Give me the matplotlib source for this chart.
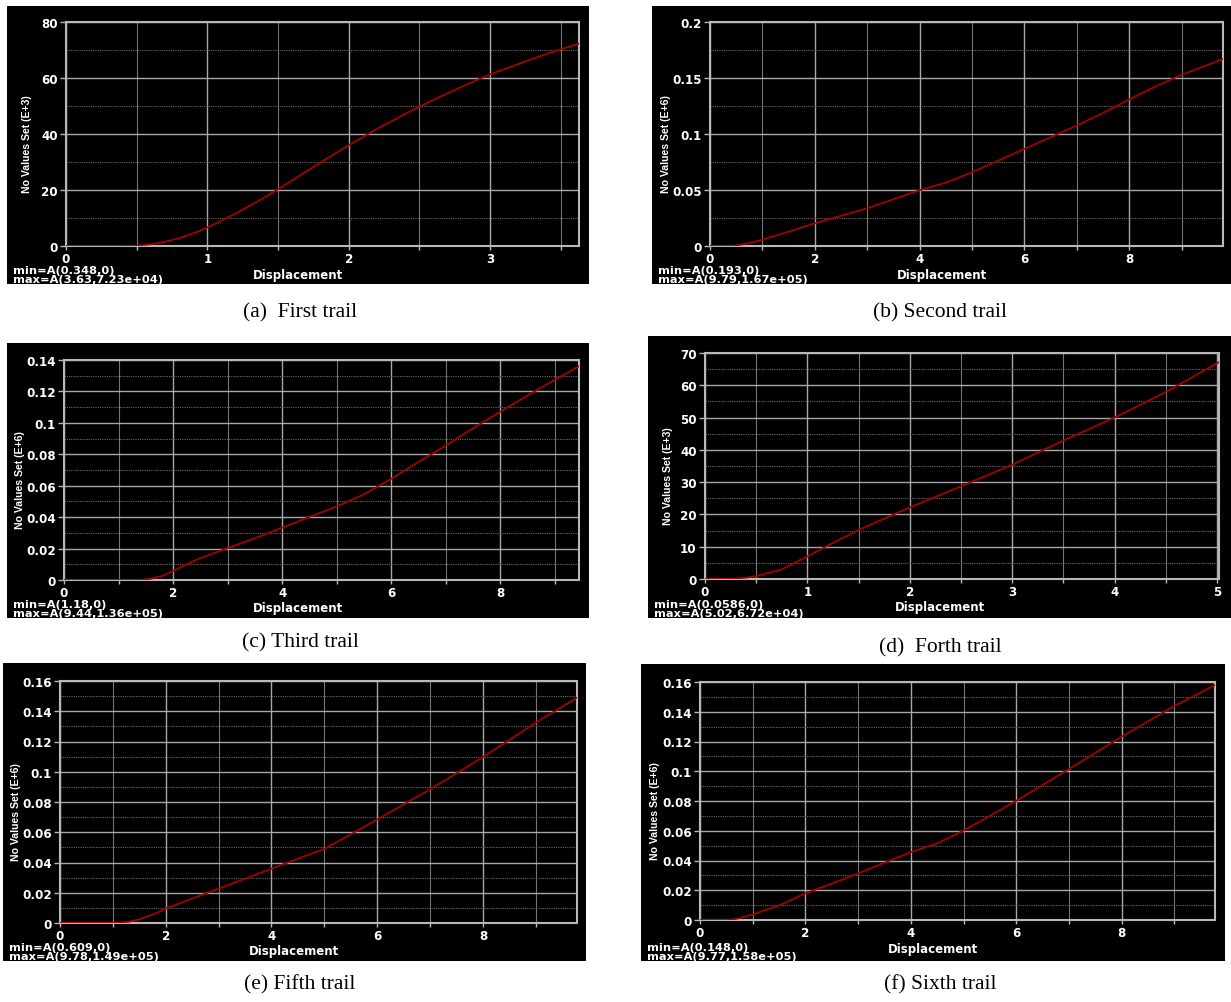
import matplotlib
matplotlib.use("Agg")
import matplotlib.pyplot as plt
from matplotlib.patches import Rectangle
from matplotlib.ticker import MultipleLocator, FuncFormatter

W, H = 1231, 1003

# force-displacement curves of the six trails (values in axis units: E+3 / E+6)
first_x = [0, 0.348, 0.5, 0.6, 0.7, 0.8, 0.9, 1.0, 1.2, 1.4, 1.6, 1.8, 2.0, 2.2, 2.4,
           2.6, 2.8, 3.0, 3.2, 3.4, 3.63]
first_y = [0, 0, 0.1, 0.6, 1.5, 2.8, 4.5, 6.6, 11.6, 17.2, 23.4, 29.8, 36.0, 41.8, 47.2,
           52.2, 56.9, 61.3, 65.0, 68.6, 72.3]

second_x = [0, 0.193, 0.4, 0.6, 0.8, 1.0, 1.5, 2.0, 2.5, 3.0, 3.5, 4.0, 4.5, 5.0, 5.5,
            6.0, 6.5, 7.0, 7.5, 8.0, 8.5, 9.0, 9.5, 9.79]
second_y = [0, 0, 0, 0.0012, 0.0032, 0.0057, 0.0128, 0.0203, 0.0270, 0.0337, 0.0418,
            0.0498, 0.0565, 0.0659, 0.0763, 0.0867, 0.0971, 0.1076, 0.1188, 0.1309,
            0.1425, 0.1529, 0.1618, 0.167]

third_x = [0, 1.18, 1.4, 1.6, 1.8, 2.0, 2.25, 2.5, 3.0, 3.5, 4.0, 4.5, 5.0, 5.5, 6.0,
           6.5, 7.0, 7.5, 8.0, 8.5, 9.0, 9.44]
third_y = [0, 0, 0, 0.0008, 0.0026, 0.0057, 0.0100, 0.0140, 0.0203, 0.0266, 0.0333,
           0.0402, 0.0468, 0.0546, 0.0644, 0.0752, 0.0856, 0.0966, 0.1072, 0.1175,
           0.1275, 0.136]

forth_x = [0, 0.0586, 0.25, 0.4, 0.5, 0.75, 1.0, 1.25, 1.5, 2.0, 2.5, 3.0, 3.5, 4.0,
           4.5, 5.02]
forth_y = [0, 0, 0, 0.4, 0.9, 3.0, 7.0, 11.2, 15.2, 22.2, 28.7, 35.4, 42.9, 50.0,
           57.9, 67.2]

fifth_x = [0, 0.609, 1.1, 1.3, 1.5, 1.75, 2.0, 2.5, 3.0, 3.5, 4.0, 4.5, 5.0, 5.5, 6.0,
           6.5, 7.0, 7.5, 8.0, 8.5, 9.0, 9.5, 9.78]
fifth_y = [0, 0, 0, 0.0008, 0.0024, 0.0055, 0.0095, 0.0162, 0.0227, 0.0293, 0.0359,
           0.0425, 0.0491, 0.0586, 0.0685, 0.0784, 0.0884, 0.0990, 0.1097, 0.1210,
           0.1325, 0.1430, 0.149]

sixth_x = [0, 0.148, 0.55, 0.75, 1.0, 1.5, 2.0, 2.5, 3.0, 3.5, 4.0, 4.5, 5.0, 5.5, 6.0,
           6.5, 7.0, 7.5, 8.0, 8.5, 9.0, 9.5, 9.77]
sixth_y = [0, 0, 0, 0.0012, 0.0038, 0.0098, 0.0179, 0.0245, 0.0313, 0.0385, 0.0456,
           0.0515, 0.0601, 0.0700, 0.0802, 0.0908, 0.1015, 0.1124, 0.1233, 0.1336,
           0.1439, 0.1530, 0.158]

captions = ["(a)  First trail", "(b) Second trail", "(c) Third trail",
            "(d)  Forth trail", "(e) Fifth trail", "(f) Sixth trail"]
exponents = [3, 6, 6, 3, 6, 6]
y_tops = [80, 0.2, 0.14, 70, 0.16, 0.16]
y_steps = [20, 0.05, 0.02, 10, 0.02, 0.02]
x_steps = [1, 2, 2, 1, 2, 2]

# panel layout in pixels: black frame, plot area, caption centre, y-label x
panels = [
    dict(frame=(7, 7, 589, 285), area=(66, 23, 579, 247), cap=(300, 313), ylab=27),
    dict(frame=(652, 7, 1231, 285), area=(710, 23, 1223, 247), cap=(940, 313), ylab=666),
    dict(frame=(7, 344, 589, 619), area=(64, 361, 579, 581), cap=(300, 643), ylab=20),
    dict(frame=(648, 337, 1231, 619), area=(705, 354, 1219, 580), cap=(940, 648), ylab=668),
    dict(frame=(3, 664, 586, 962), area=(60, 682, 577, 924), cap=(300, 985), ylab=16),
    dict(frame=(641, 665, 1225, 962), area=(700, 683, 1215, 921), cap=(940, 985), ylab=655),
]

curves = [(first_x, first_y), (second_x, second_y), (third_x, third_y),
          (forth_x, forth_y), (fifth_x, fifth_y), (sixth_x, sixth_y)]

BOLD = dict(family="DejaVu Sans", weight="bold", color="white")


def fx(px):
    return px / W


def fy(py):
    return 1 - py / H


fig = plt.figure(figsize=(W / 100, H / 100), dpi=100, facecolor="white")

for p, (xs, ys), cap, ex, ytop, ystep, xstep in zip(
        panels, curves, captions, exponents, y_tops, y_steps, x_steps):
    l, t, r, b = p["frame"]
    fig.add_artist(Rectangle((fx(l), fy(b)), (r - l) / W, (b - t) / H,
                             transform=fig.transFigure, facecolor="black",
                             edgecolor="none", zorder=-5))
    al, at, ar, ab = p["area"]
    ax = fig.add_axes([fx(al), fy(ab), (ar - al) / W, (ab - at) / H])
    ax.set_facecolor("black")

    ax.plot(xs, ys, color="#a30000", lw=1.3, zorder=3)
    ax.set_xlim(0, xs[-1])
    ax.set_ylim(0, ytop)

    ax.xaxis.set_major_locator(MultipleLocator(xstep))
    ax.xaxis.set_minor_locator(MultipleLocator(xstep / 2))
    ax.yaxis.set_major_locator(MultipleLocator(ystep))
    ax.yaxis.set_minor_locator(MultipleLocator(ystep / 2))
    fmt = FuncFormatter(lambda v, pos: f"{round(v, 6):g}")
    ax.xaxis.set_major_formatter(fmt)
    ax.yaxis.set_major_formatter(fmt)

    ax.grid(which="major", color="#a8a8a8", lw=1.0)
    ax.xaxis.grid(which="minor", color="#767676", lw=0.8)
    ax.yaxis.grid(which="minor", color="#6a6a6a", lw=0.8, linestyle=(0, (1, 1)))
    ax.set_axisbelow(True)
    for s in ax.spines.values():
        s.set_color("#b8b8b8")
        s.set_linewidth(1.5)

    ax.tick_params(which="both", colors="#b8b8b8", labelcolor="white",
                   labelsize=8.6, width=1)
    ax.tick_params(axis="x", which="major", length=3, pad=1.5)
    ax.tick_params(axis="x", which="minor", length=3)
    ax.tick_params(axis="y", which="major", length=4, pad=2)
    ax.tick_params(axis="y", which="minor", length=0)
    for lab in ax.get_xticklabels() + ax.get_yticklabels():
        lab.set_fontweight("bold")

    # axis titles and extrema readout
    fig.text(fx((l + r) / 2), fy(ab + 28), "Displacement", ha="center", va="center",
             fontsize=8.5, **BOLD)
    fig.text(fx(p["ylab"]), fy((at + ab) / 2 + 9), f"No Values Set (E+{ex})",
             rotation=90, ha="center", va="center", fontsize=7.6,
             family="Liberation Sans", weight="bold", color="white")
    scale = 10 ** ex
    fig.text(fx(l + 6), fy(b - 14), f"min=A({xs[1]:.3g},0)", ha="left", va="center",
             fontsize=8.2, **BOLD)
    fig.text(fx(l + 6), fy(b - 5), f"max=A({xs[-1]:.3g},{ys[-1] * scale:.3g})",
             ha="left", va="center", fontsize=8.2, **BOLD)

    cx, cy = p["cap"]
    fig.text(fx(cx), fy(cy), cap, ha="center", va="center", fontsize=15.5,
             family="Liberation Serif", color="black")

fig.savefig("out.png", dpi=100, facecolor="white")
